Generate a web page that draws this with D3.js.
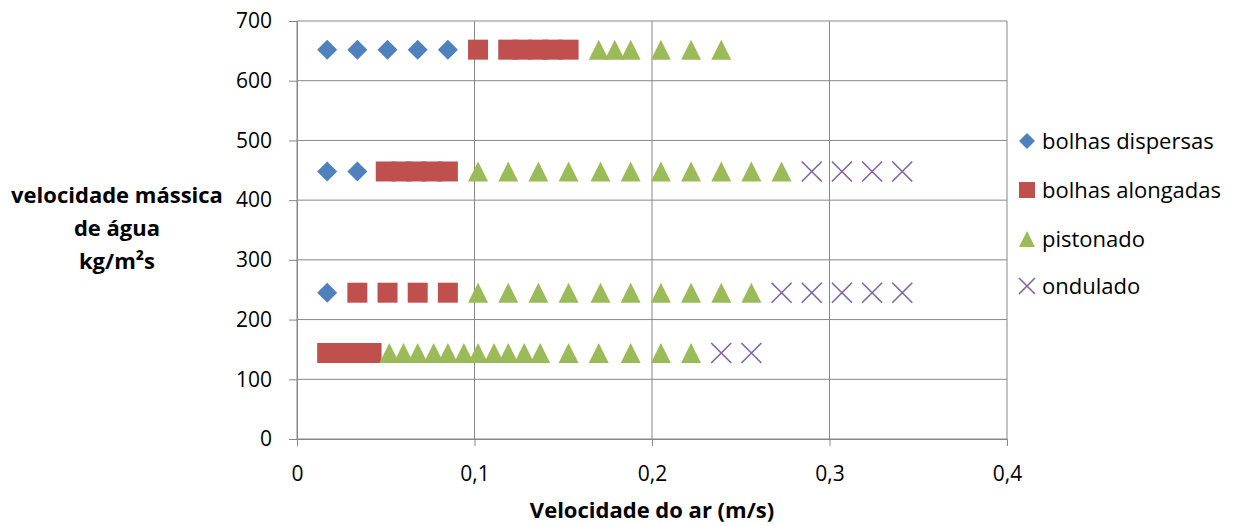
<!DOCTYPE html>
<html>
<head>
<meta charset="utf-8">
<script src="https://cdn.jsdelivr.net/npm/d3@7"></script>
<style>
body { margin: 0; background: #fff; }
svg { font-family: "Open Sans", Lato, sans-serif; }
</style>
</head>
<body>
<svg id="chart" width="1245" height="526"></svg>
<script>
// series: air velocity (m/s) per row of water mass velocity
var dispersas = [
	[0.017, 652], [0.034, 652], [0.051, 652], [0.068, 652], [0.085, 652],
	[0.017, 448], [0.034, 448],
	[0.017, 245]
]
var alongadas = [
	[0.102, 652], [0.119, 652], [0.127, 652], [0.136, 652], [0.144, 652], [0.153, 652],
	[0.050, 448], [0.059, 448], [0.067, 448], [0.076, 448], [0.085, 448],
	[0.034, 245], [0.051, 245], [0.068, 245], [0.085, 245],
	[0.017, 144], [0.025, 144], [0.034, 144], [0.042, 144]
]
var pistonado = [
	[0.170, 652], [0.179, 652], [0.188, 652], [0.205, 652], [0.222, 652], [0.239, 652],
	[0.102, 448], [0.119, 448], [0.136, 448], [0.153, 448], [0.171, 448], [0.188, 448],
	[0.205, 448], [0.222, 448], [0.239, 448], [0.256, 448], [0.273, 448],
	[0.102, 245], [0.119, 245], [0.136, 245], [0.153, 245], [0.171, 245], [0.188, 245],
	[0.205, 245], [0.222, 245], [0.239, 245], [0.256, 245],
	[0.052, 144], [0.060, 144], [0.068, 144], [0.077, 144], [0.085, 144], [0.094, 144],
	[0.102, 144], [0.111, 144], [0.119, 144], [0.128, 144], [0.137, 144], [0.153, 144],
	[0.170, 144], [0.188, 144], [0.205, 144], [0.222, 144]
]
var ondulado = [
	[0.290, 448], [0.307, 448], [0.324, 448], [0.341, 448],
	[0.273, 245], [0.290, 245], [0.307, 245], [0.324, 245], [0.341, 245],
	[0.239, 144], [0.256, 144]
]
var seriesNames = ["bolhas dispersas", "bolhas alongadas", "pistonado", "ondulado"]
var xTicks = [0, 0.1, 0.2, 0.3, 0.4]
var yTicks = [0, 100, 200, 300, 400, 500, 600, 700]

var colors = ["#4F81BD", "#C0504D", "#9BBB59", "#8064A2"]
var shapes = ["diamond", "square", "triangle", "cross"]

var x = d3.scaleLinear().domain([0, 0.4]).range([297, 1007])
var y = d3.scaleLinear().domain([0, 700]).range([439, 21])

var svg = d3.select("#chart")
var comma = function(d) { return String(d).replace(".", ",") }

// gridlines
svg.append("g").selectAll("line")
	.data(yTicks).enter().append("line")
	.attr("x1", x(0)).attr("x2", x(0.4))
	.attr("y1", function(d) { return y(d) }).attr("y2", function(d) { return y(d) })
	.attr("stroke", "#878787").attr("stroke-width", 1)
svg.append("g").selectAll("line")
	.data(xTicks).enter().append("line")
	.attr("y1", y(0)).attr("y2", y(700))
	.attr("x1", function(d) { return x(d) }).attr("x2", function(d) { return x(d) })
	.attr("stroke", "#878787").attr("stroke-width", 1)

// axes
var yAxis = svg.append("g")
	.attr("transform", "translate(" + x(0) + ",0)")
	.call(d3.axisLeft(y).tickValues(yTicks).tickSize(8).tickPadding(17))
var xAxis = svg.append("g")
	.attr("transform", "translate(0," + y(0) + ")")
	.call(d3.axisBottom(x).tickValues(xTicks).tickSize(7).tickPadding(20).tickFormat(comma))
svg.selectAll(".domain").attr("stroke", "#878787")
svg.selectAll(".tick line").attr("stroke", "#878787")
svg.selectAll(".tick text").attr("font-size", 21).attr("fill", "#000")
	.attr("font-family", "'Open Sans', sans-serif")

// markers
function shapePath(type, r) {
	if (type == "diamond") return "M0," + (-r) + "L" + r + ",0L0," + r + "L" + (-r) + ",0Z"
	if (type == "square") return "M" + (-r) + "," + (-r) + "h" + 2 * r + "v" + 2 * r + "h" + (-2 * r) + "Z"
	if (type == "triangle") return "M0," + (-r) + "L" + r + "," + r + "L" + (-r) + "," + r + "Z"
	return "M" + (-r) + "," + (-r) + "L" + r + "," + r + "M" + r + "," + (-r) + "L" + (-r) + "," + r
}
function drawMarker(sel, i, r) {
	sel.attr("d", shapePath(shapes[i], r))
	if (shapes[i] == "cross") sel.attr("fill", "none").attr("stroke", colors[i]).attr("stroke-width", 1.6)
	else sel.attr("fill", colors[i])
}

var allSeries = [dispersas, alongadas, pistonado, ondulado]
allSeries.forEach(function(s, i) {
	svg.append("g").selectAll("path")
		.data(s).enter().append("path")
		.attr("transform", function(d) { return "translate(" + x(d[0]) + "," + y(d[1]) + ")" })
		.call(drawMarker, i, 10)
})

// legend
var legendY = [141, 190, 239, 286]
var legend = svg.append("g").selectAll("g")
	.data(seriesNames).enter().append("g")
	.attr("transform", function(d, i) { return "translate(1027," + legendY[i] + ")" })
legend.append("path").each(function(d, i) { d3.select(this).call(drawMarker, i, 8) })
legend.append("text")
	.attr("x", 15).attr("dy", "0.35em")
	.attr("font-size", 22)
	.text(function(d) { return d })

// axis titles
svg.append("text")
	.attr("x", x(0.2)).attr("y", 518)
	.attr("text-anchor", "middle").attr("font-weight", "bold").attr("font-size", 22)
	.text("Velocidade do ar (m/s)")
var yTitle = svg.append("text")
	.attr("text-anchor", "middle").attr("font-weight", "bold").attr("font-size", 22)
yTitle.selectAll("tspan")
	.data(["velocidade mássica", "de água", "kg/m²s"]).enter().append("tspan")
	.attr("x", 117).attr("y", function(d, i) { return 203 + i * 33 })
	.text(function(d) { return d })
</script>
</body>
</html>
